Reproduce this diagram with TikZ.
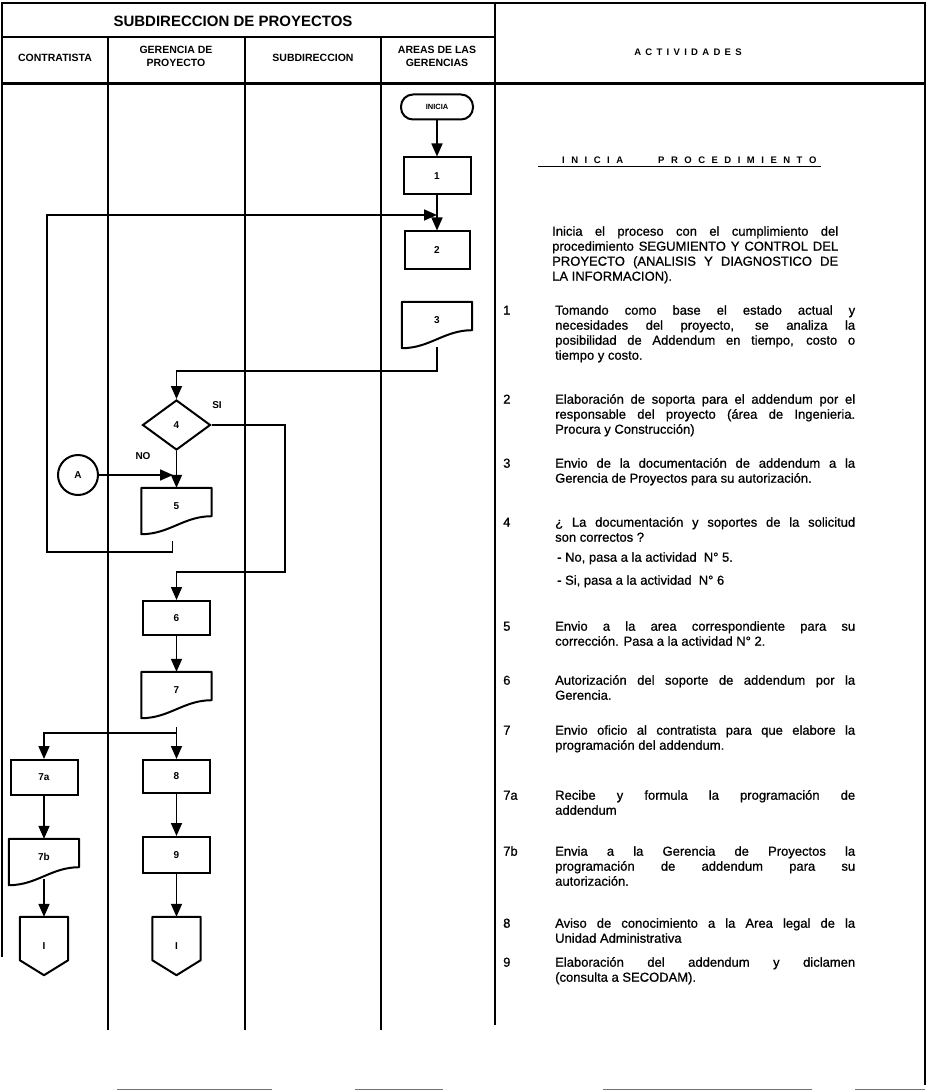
\documentclass[tikz,border=0pt]{standalone}
\usepackage{fontspec}
\setmainfont{Liberation Sans}
\newfontfamily\bodyfont{Liberation Sans}[FakeBold=0.8]
\usetikzlibrary{arrows.meta,shapes.geometric,calc}
\makeatletter
\newcommand\lsp[2]{\def\lsp@gap{#1}\@tfor\lsp@c:=#2\do{\lsp@c\kern\lsp@gap}\unkern}
\makeatother
\begin{document}
\begin{tikzpicture}[x=1pt,y=-1pt,
 every node/.style={inner sep=0pt},
 rule/.style={line width=2.4pt},
 thinrule/.style={line width=1pt,black!55},
 flow/.style={line width=1.7pt},
 arr/.style={flow,-{Triangle[width=11pt,length=13pt]}},
 lbl/.style={font=\bfseries\fontsize{10}{10}\selectfont},
 shapeline/.style={line width=2pt,line join=round},
 proc/.style={draw,line width=2pt,minimum width=67pt,lbl},
 docbox/.style={minimum width=70pt,minimum height=36pt,lbl},
 offpage/.style={minimum width=48pt,minimum height=58pt,lbl},
 hdr/.style={font=\bfseries\fontsize{10.5}{12.5}\selectfont,align=center},
 act/.style={anchor=north west,text width=300pt,align=justify,font=\bodyfont\fontsize{13}{15}\selectfont},
 num/.style={anchor=north west,font=\bodyfont\fontsize{13}{15}\selectfont},
 yesno/.style={font=\bfseries\fontsize{10}{10}\selectfont},
]
\useasboundingbox (0,0) rectangle (927,1091);
\fill[white] (0,0) rectangle (927,1091);

% frame and lanes
\draw[rule] (2,957) -- (2,3) -- (925,3) -- (925,1085);
\draw[rule] (2,37) -- (495,37);
\draw[line width=3pt] (2,84) -- (925,84);
\draw[rule] (495,3) -- (495,1025);
\foreach \x in {108,245,381} \draw[rule] (\x,37) -- (\x,1030);
\foreach \a/\b in {117/272,355/443,603/812,855/925} \draw[thinrule] (\a,1089) -- (\b,1089);

% headers
\node[font=\bfseries\fontsize{15}{15}\selectfont] (title) at (233,21) {SUBDIRECCION DE PROYECTOS};
\node[hdr] (hc) at (55,58) {CONTRATISTA};
\node[hdr] (hg) at (176,56.5) {GERENCIA DE\\PROYECTO};
\node[hdr] (hs) at (313,58) {SUBDIRECCION};
\node[hdr] (ha) at (437,56.5) {AREAS DE LAS\\GERENCIAS};
\node[font=\bfseries\fontsize{9.5}{10}\selectfont] (hact) at (688,52) {\lsp{4.3pt}{ACTIVIDADES}};

% flowchart nodes
\node[draw,line width=2pt,rounded corners=12pt,minimum width=72pt,minimum height=25pt,font=\bfseries\fontsize{7.5}{8}\selectfont] (inicia) at (437,107) {INICIA};
\node[proc,minimum height=37pt] (b1) at (437,176) {1};
\node[proc,minimum width=65pt,minimum height=37pt] (b2) at (437,250) {2};
\node[docbox] (d3) at (437,320) {3};
\node[draw,line width=2pt,diamond,minimum width=68pt,minimum height=50pt,aspect=1.36,lbl] (d4) at (176.5,425) {4};
\node[draw,line width=2pt,circle,minimum size=40pt,lbl] (A) at (78,475) {A};
\node[docbox] (d5) at (176.5,506) {5};
\node[proc,minimum height=34pt] (b6) at (176.5,618) {6};
\node[docbox] (d7) at (176.5,690) {7};
\node[proc,minimum height=35pt] (b7a) at (44,777.5) {7a};
\node[proc,minimum height=33pt] (b8) at (176.5,776.5) {8};
\node[docbox] (d7b) at (44,857) {7b};
\node[proc,minimum height=36pt] (b9) at (176.5,855) {9};
\node[offpage] (c1) at (44,946) {I};
\node[offpage] (c2) at (176.5,946) {I};

\foreach \n in {d3,d5,d7,d7b}
  \draw[shapeline] (\n.north west) -- (\n.north east) -- ($(\n.south east)+(0,-8)$)
     .. controls +(-28,0) and +(28,0) .. ($(\n.south west)+(0,10)$) -- cycle;
\foreach \n in {c1,c2}
  \draw[shapeline] (\n.north west) -- (\n.north east) -- ($(\n.south east)+(0,-15)$)
     -- (\n.south) -- ($(\n.south west)+(0,-15)$) -- cycle;

\node[yesno] (si) at (217,405) {SI};
\node[yesno] (no) at (143,456) {NO};

% connectors
\coordinate (jy) at (0,215);
\coordinate (loopL) at (47,552);
\coordinate (j4) at (437,371);
\coordinate (siB) at (285,572);
\coordinate (jA) at (173,475);
\coordinate (split) at (176.5,733);
\draw[arr] (inicia) -- (b1);
\draw[arr] (b1) -- (b2);
\draw[arr] ($(d5.south)+(-4,17)$) |- (loopL) |- (b2.north |- jy);
\draw[arr] ($(d3.south)+(0,9)$) -- (j4) -| (d4.north);
\draw[arr] (d4.east) -| (siB) -| (b6.north);
\draw[arr] (d4.south) -- (d5.north);
\draw[arr] (A.east) -- (jA);
\draw[arr] (b6.south) -- (d7.north);
\draw[flow] ($(d7.south)+(0,19)$) -- (split);
\draw[arr] (split) -- (b8.north);
\draw[arr] (split) -| (b7a.north);
\draw[arr] (b7a.south) -- (d7b.north);
\draw[arr] (b8.south) -- (b9.north);
\draw[arr] ($(d7b.south)+(0,4)$) -- (c1.north);
\draw[arr] (b9.south) -- (c2.north);

% activities text
\node[font=\bfseries\fontsize{9.5}{10}\selectfont,anchor=west] (ip) at (562,160) {\lsp{6.5pt}{INICIA}\hspace{35pt}\lsp{6.5pt}{PROCEDIMIENTO}};
\draw[line width=1.2pt] ($(ip.south west)+(-24,3)$) -- ($(ip.south east)+(4,3)$);

\node[act,text width=286pt] (p0) at (552,225) {\strut Inicia el proceso con el cumplimiento del\linebreak procedimiento SEGUMIENTO Y CONTROL DEL\linebreak PROYECTO (ANALISIS Y DIAGNOSTICO DE\linebreak LA INFORMACION).};

\node[num] (n1) at (503,304) {\strut 1};
\node[act] (t1) at (555,304) {\strut Tomando como base el estado actual y\linebreak necesidades del proyecto, se analiza la\linebreak posibilidad de Addendum en tiempo, costo o\linebreak tiempo y costo.};

\node[num] (n2) at (503,393) {\strut 2};
\node[act] (t2) at (555,393) {\strut Elaboración de soporta para el addendum por el\linebreak responsable del proyecto (área de Ingenieria.\linebreak Procura y Construcción)};

\node[num] (n3) at (503,457) {\strut 3};
\node[act] (t3) at (555,457) {\strut Envio de la documentación de addendum a la\linebreak Gerencia de Proyectos para su autorización.};

\node[num] (n4) at (503,516) {\strut 4};
\node[act] (t4) at (555,516) {\strut ¿ La documentación y soportes de la solicitud\linebreak son correctos ?};
\node[num] (t4no) at (557,551) {\strut - No, pasa a la actividad\ \ N° 5.};
\node[num] (t4si) at (557,574) {\strut - Si, pasa a la actividad\ \ N° 6};

\node[num] (n5) at (503,620) {\strut 5};
\node[act] (t5) at (555,620) {\strut Envio a la area correspondiente para su\linebreak corrección. Pasa a la actividad N° 2.};

\node[num] (n6) at (503,674) {\strut 6};
\node[act] (t6) at (555,674) {\strut Autorización del soporte de addendum por la\linebreak Gerencia.};

\node[num] (n7) at (503,724) {\strut 7};
\node[act] (t7) at (555,724) {\strut Envio oficio al contratista para que elabore la\linebreak programación del addendum.};

\node[num] (n7a) at (503,789) {\strut 7a};
\node[act] (t7a) at (555,789) {\strut Recibe y formula la programación de\linebreak addendum};

\node[num] (n7b) at (503,845) {\strut 7b};
\node[act] (t7b) at (555,845) {\strut Envia a la Gerencia de Proyectos la\linebreak programación de addendum para su\linebreak autorización.};

\node[num] (n8) at (503,917) {\strut 8};
\node[act] (t8) at (555,917) {\strut Aviso de conocimiento a la Area legal de la\linebreak Unidad Administrativa};

\node[num] (n9) at (503,956) {\strut 9};
\node[act] (t9) at (555,956) {\strut Elaboración del addendum y diclamen\linebreak (consulta a SECODAM).};
\end{tikzpicture}
\end{document}
